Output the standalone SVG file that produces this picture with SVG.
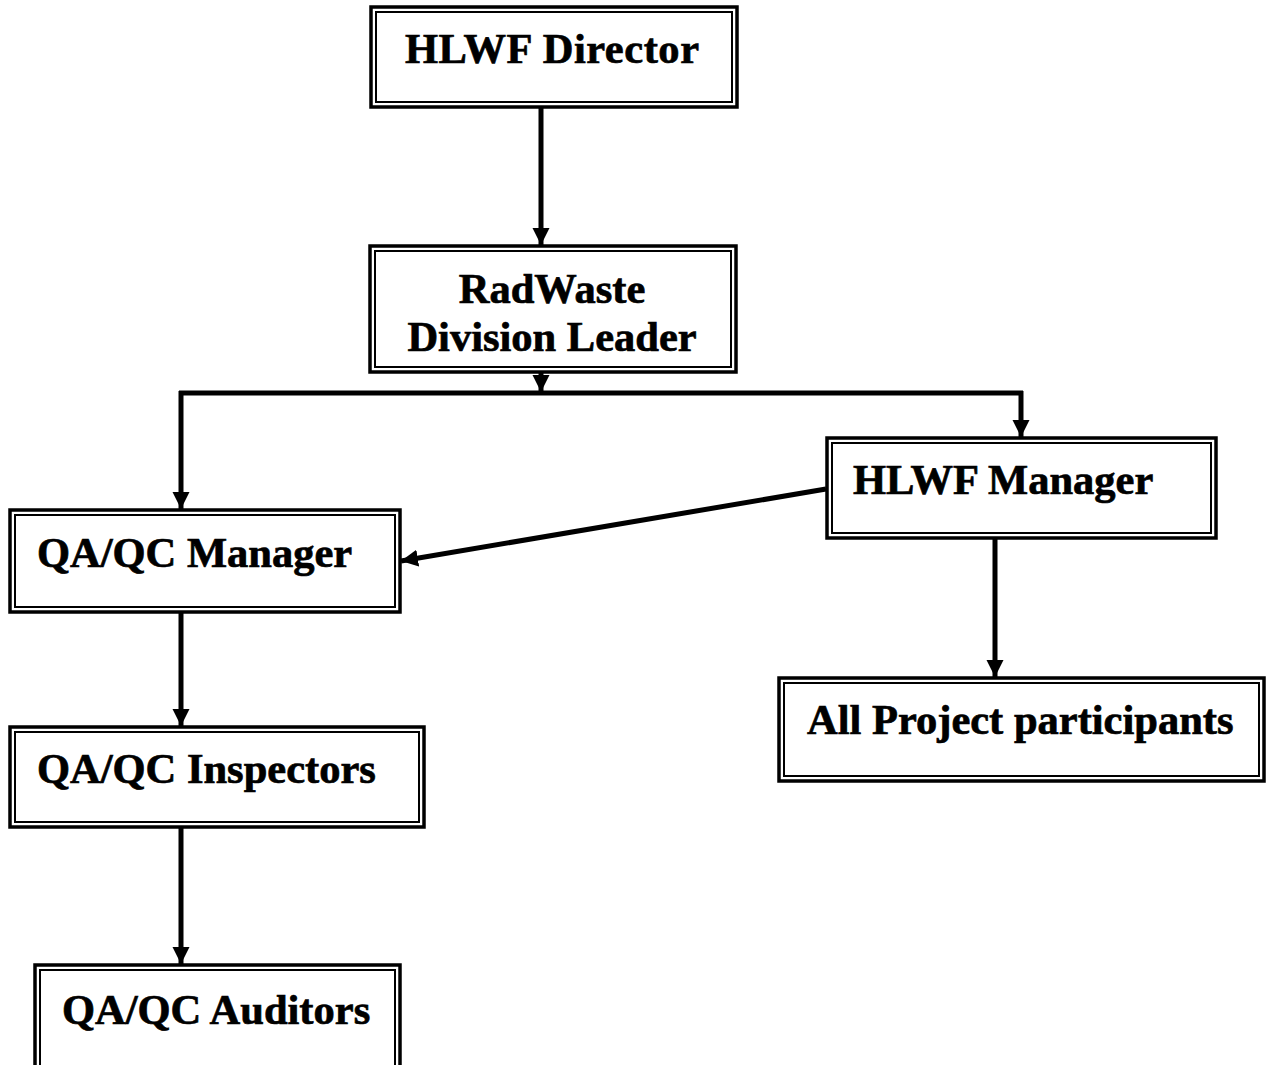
<svg xmlns="http://www.w3.org/2000/svg" width="1266" height="1065" viewBox="0 0 1266 1065">
<style>
.o{fill:#fff;stroke:#000;stroke-width:3.5}
.i{fill:none;stroke:#000;stroke-width:2}
.t{font-weight:bold;font-size:42.5px;fill:#000;stroke:#000;stroke-width:0.7}
.c{stroke:#000;stroke-width:5;fill:none}
</style>
<defs>
<marker id="a" markerUnits="userSpaceOnUse" markerWidth="20" markerHeight="20" refX="17" refY="8.5" orient="auto"><path d="M0,0 L17,8.5 L0,17 Z" fill="#000"/></marker>
</defs>
<g id="connectors">
<line class="c" x1="541" y1="108" x2="541" y2="245" marker-end="url(#a)"/>
<line class="c" x1="541" y1="373" x2="541" y2="392" marker-end="url(#a)"/>
<line class="c" x1="179" y1="393" x2="1023" y2="393"/>
<line class="c" x1="181" y1="391" x2="181" y2="509" marker-end="url(#a)"/>
<line class="c" x1="1021" y1="391" x2="1021" y2="437" marker-end="url(#a)"/>
<line class="c" x1="826" y1="489" x2="401" y2="561" marker-end="url(#a)"/>
<line class="c" x1="995" y1="538" x2="995" y2="677" marker-end="url(#a)"/>
<line class="c" x1="181" y1="612" x2="181" y2="726" marker-end="url(#a)"/>
<line class="c" x1="181" y1="828" x2="181" y2="964" marker-end="url(#a)"/>
</g>
<g font-family="Liberation Serif, Times New Roman, serif">
<g id="director">
<rect class="o" x="371" y="7" width="366" height="100"/>
<rect class="i" x="376" y="12" width="356" height="90"/>
<text class="t" x="405" y="63" textLength="294">HLWF Director</text>
</g>
<g id="radwaste">
<rect class="o" x="370" y="246" width="366" height="126"/>
<rect class="i" x="375" y="251" width="356" height="116"/>
<text class="t" x="552" y="303" text-anchor="middle">RadWaste</text>
<text class="t" x="552" y="351" text-anchor="middle">Division Leader</text>
</g>
<g id="hlwf-manager">
<rect class="o" x="827" y="438" width="389" height="100"/>
<rect class="i" x="832" y="443" width="379" height="90"/>
<text class="t" x="853" y="494">HLWF Manager</text>
</g>
<g id="qaqc-manager">
<rect class="o" x="10" y="510" width="390" height="102"/>
<rect class="i" x="15" y="515" width="380" height="92"/>
<text class="t" x="37" y="567">QA/QC Manager</text>
</g>
<g id="all-project">
<rect class="o" x="779" y="678" width="485" height="103"/>
<rect class="i" x="784" y="683" width="475" height="93"/>
<text class="t" x="807" y="734">All Project participants</text>
</g>
<g id="qaqc-inspectors">
<rect class="o" x="10" y="727" width="414" height="100"/>
<rect class="i" x="15" y="732" width="404" height="90"/>
<text class="t" x="37" y="783">QA/QC Inspectors</text>
</g>
<g id="qaqc-auditors">
<rect class="o" x="35" y="965" width="365" height="110"/>
<rect class="i" x="40" y="970" width="355" height="110"/>
<text class="t" x="62" y="1024">QA/QC Auditors</text>
</g>
</g>
</svg>
